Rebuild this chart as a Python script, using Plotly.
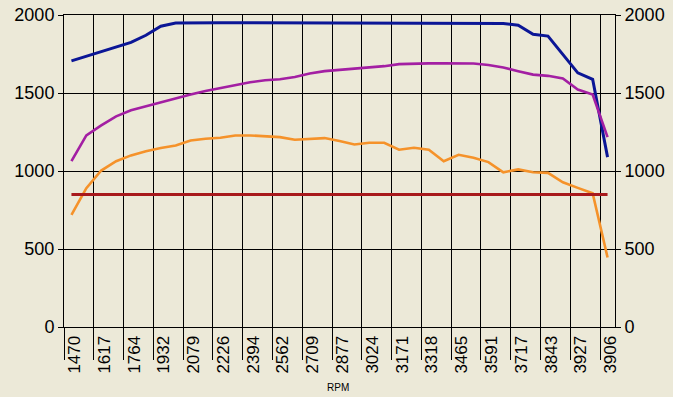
import plotly.graph_objects as go

# ---- data (37 RPM steps; every other step is labelled) ----
tick_labels = ["1470", "1617", "1764", "1932", "2079", "2226", "2394", "2562", "2709",
               "2877", "3024", "3171", "3318", "3465", "3591", "3717", "3843", "3927", "3906"]

blue = [1706, 1736, 1766, 1796, 1824, 1870, 1928, 1948, 1950, 1950, 1950, 1950, 1950,
        1950, 1950, 1950, 1950, 1950, 1950, 1950, 1950, 1950, 1950, 1950, 1950, 1950,
        1950, 1950, 1950, 1946, 1935, 1877, 1865, 1747, 1629, 1588, 1089]

magenta = [1063, 1228, 1292, 1350, 1389, 1415, 1436, 1464, 1490, 1513, 1532, 1548, 1569,
           1582, 1588, 1603, 1625, 1640, 1648, 1657, 1668, 1672, 1685, 1689, 1690, 1690,
           1690, 1689, 1680, 1663, 1640, 1618, 1610, 1593, 1522, 1490, 1217]

orange = [718, 890, 1003, 1063, 1100, 1127, 1147, 1164, 1196, 1207, 1213, 1228, 1228,
          1222, 1217, 1200, 1207, 1211, 1192, 1170, 1181, 1181, 1136, 1149, 1136, 1063,
          1104, 1085, 1057, 992, 1010, 992, 988, 928, 892, 857, 446]

red = [850] * 37

y_ticks = [0, 500, 1000, 1500, 2000]

n = len(blue)
xs = list(range(n))
tick_pos = list(range(0, n, 2))

BG = "#ECE9D8"
FONT = "Liberation Sans, Arial, sans-serif"

fig = go.Figure()
fig.add_trace(go.Scatter(x=xs, y=blue, mode="lines",
                         line=dict(color="#0B1696", width=3), yaxis="y"))
fig.add_trace(go.Scatter(x=xs, y=magenta, mode="lines",
                         line=dict(color="#A31FA3", width=2.6), yaxis="y"))
fig.add_trace(go.Scatter(x=xs, y=orange, mode="lines",
                         line=dict(color="#F5922A", width=2.6), yaxis="y"))
fig.add_trace(go.Scatter(x=xs, y=red, mode="lines",
                         line=dict(color="#A8191C", width=3), yaxis="y2"))

fig.update_layout(
    width=673, height=397,
    margin=dict(l=64, r=58, t=15, b=70, autoexpand=False),
    paper_bgcolor=BG, plot_bgcolor=BG,
    showlegend=False,
    font=dict(family=FONT, color="black"),
    xaxis=dict(
        range=[-0.5, n - 0.5], automargin=False,
        tickmode="array", tickvals=tick_pos, ticktext=tick_labels,
        tickangle=-90, tickfont=dict(size=17, family=FONT, color="black"),
        ticklabelshift=3,
        ticks="outside", ticklen=1, tickcolor="rgba(0,0,0,0)",
        showgrid=False, zeroline=False,
        showline=True, linecolor="black", linewidth=1, mirror=True,
        minor=dict(tickmode="array", tickvals=[p - 0.5 for p in tick_pos],
                   ticks="outside", ticklen=32, tickcolor="black", tickwidth=1,
                   showgrid=True, gridcolor="black", gridwidth=1),
    ),
    yaxis=dict(
        range=[0, 2000], tickmode="array", tickvals=y_ticks, automargin=False,
        tickfont=dict(size=18, family=FONT, color="black"),
        ticks="outside", ticklen=5, tickcolor="black",
        showgrid=True, gridcolor="black", gridwidth=1, zeroline=False,
        showline=True, linecolor="black", linewidth=1,
    ),
    yaxis2=dict(
        range=[0, 2000], tickmode="array", tickvals=y_ticks, automargin=False,
        overlaying="y", side="right", matches="y",
        tickfont=dict(size=18, family=FONT, color="black"),
        ticks="outside", ticklen=5, tickcolor="black",
        showgrid=False, zeroline=False,
        showline=True, linecolor="black", linewidth=1,
    ),
    annotations=[dict(text="RPM", xref="paper", yref="paper",
                      x=(338 - 64) / 551, y=-(387 - 327) / 312,
                      xanchor="center", yanchor="middle", showarrow=False,
                      font=dict(size=10, family=FONT, color="black"))],
)

fig.write_html(
    "out.html",
    config={"displayModeBar": False},
    post_script="document.body.style.margin='0';document.body.style.background='#ECE9D8';",
)
